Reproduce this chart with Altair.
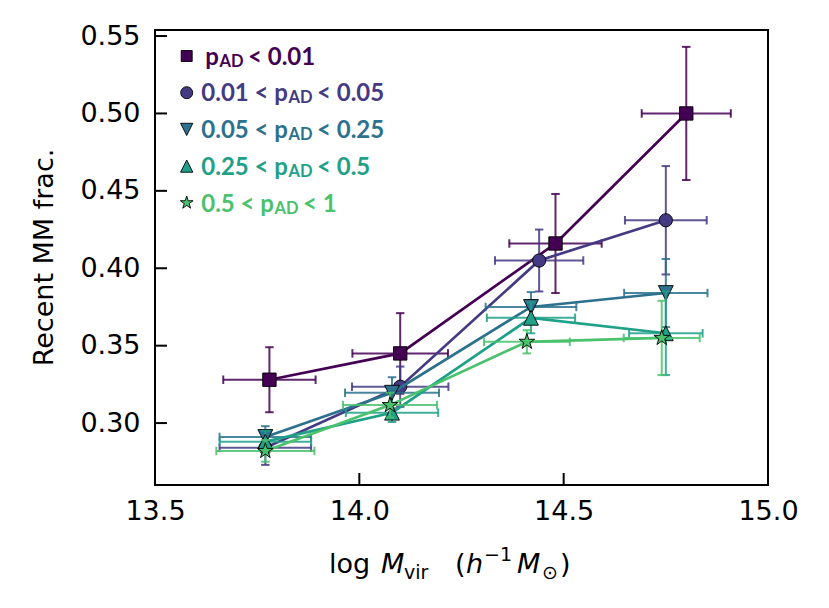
import math
import altair as alt
import pandas as pd

# ---------------- data ----------------
series_pre = ["p", "0.01 < p", "0.05 < p", "0.25 < p", "0.5 < p"]
series_sub = ["AD", "AD", "AD", "AD", "AD"]
series_post = ["< 0.01", "< 0.05", "< 0.25", "< 0.5", "< 1"]
colors = ["#440154", "#443a83", "#2c718e", "#1fa088", "#4ac16d"]

x_vals = [
    [13.78, 14.10, 14.48, 14.80],
    [13.77, 14.10, 14.44, 14.75],
    [13.77, 14.08, 14.42, 14.75],
    [13.77, 14.08, 14.42, 14.75],
    [13.77, 14.075, 14.41, 14.74],
]
y_vals = [
    [0.328, 0.345, 0.416, 0.500],
    [0.284, 0.3235, 0.405, 0.431],
    [0.291, 0.3196, 0.375, 0.384],
    [0.288, 0.3067, 0.368, 0.358],
    [0.282, 0.3116, 0.3525, 0.355],
]
x_errs = [
    [0.113, 0.117, 0.113, 0.109],
    [0.112, 0.118, 0.108, 0.100],
    [0.112, 0.115, 0.111, 0.102],
    [0.112, 0.113, 0.108, 0.090],
    [0.120, 0.115, 0.105, 0.093],
]
y_errs = [
    [0.021, 0.026, 0.032, 0.043],
    [0.011, 0.013, 0.020, 0.035],
    [0.007, 0.010, 0.0096, 0.022],
    [0.007, 0.006, 0.010, 0.027],
    [0.007, 0.008, 0.0075, 0.024],
]

x_ticks = [13.5, 14.0, 14.5, 15.0]
y_ticks = [0.30, 0.35, 0.40, 0.45, 0.50, 0.55]
x_domain = [13.5, 15.0]
y_domain = [0.26, 0.5539]

# ---------------- layout / style ----------------
W, H = 613, 455
TICK_FONT = "DejaVu Sans"

star_pts = []
for k in range(10):
    r = 1.0 if k % 2 == 0 else 0.381966
    a = -math.pi / 2 + k * math.pi / 5
    star_pts.append(f"{r*math.cos(a):.4f},{r*math.sin(a):.4f}")
STAR = "M" + "L".join(star_pts) + "Z"
TRI_DOWN = "M-1,-1L1,-1L0,1Z"
TRI_UP = "M0,-1L-1,1L1,1Z"
shapes = ["square", "circle", TRI_DOWN, TRI_UP, STAR]
plot_sizes = [180, 175, 220, 220, 270]
legend_sizes = [121, 144, 150, 150, 180]

xs = alt.Scale(domain=x_domain, nice=False, zero=False)
ys = alt.Scale(domain=y_domain, nice=False, zero=False)
xaxis = alt.Axis(values=x_ticks, format=".1f", title=None, ticks=False, tickSize=0,
                 domain=False, grid=False, labelFont=TICK_FONT, labelFontSize=27,
                 labelColor="black", labelPadding=13, labelFlush=False, labelOverlap=False)
yaxis = alt.Axis(values=y_ticks, format=".2f", title=None, ticks=False, tickSize=0,
                 domain=False, grid=False, labelFont=TICK_FONT, labelFontSize=27,
                 labelColor="black", labelPadding=15, labelFlush=False, labelOverlap=False)


def X(f):
    return alt.X(f, type="quantitative", scale=xs, axis=xaxis)


def Y(f):
    return alt.Y(f, type="quantitative", scale=ys, axis=yaxis)


layers = []

# inward ticks
layers.append(
    alt.Chart(pd.DataFrame({"v": x_ticks})).mark_rule(color="black", strokeWidth=2).encode(
        x=X("v"), y=alt.value(H), y2=alt.value(H - 12))
)
layers.append(
    alt.Chart(pd.DataFrame({"v": y_ticks})).mark_rule(color="black", strokeWidth=2).encode(
        y=Y("v"), x=alt.value(0), x2=alt.value(12))
)

for i in range(5):
    c = colors[i]
    df = pd.DataFrame({"x": x_vals[i], "y": y_vals[i], "xe": x_errs[i], "ye": y_errs[i]})
    df["x_lo"] = df["x"] - df["xe"]
    df["x_hi"] = df["x"] + df["xe"]
    df["y_lo"] = df["y"] - df["ye"]
    df["y_hi"] = df["y"] + df["ye"]
    hcaps = pd.DataFrame({"cx": list(df["x_lo"]) + list(df["x_hi"]), "cy": list(df["y"]) * 2})
    vcaps = pd.DataFrame({"cx": list(df["x"]) * 2, "cy": list(df["y_lo"]) + list(df["y_hi"])})

    layers.append(alt.Chart(df).mark_rule(color=c, strokeWidth=2, opacity=0.85).encode(
        x=X("x_lo"), x2="x_hi", y=Y("y")))
    layers.append(alt.Chart(df).mark_rule(color=c, strokeWidth=2, opacity=0.85).encode(
        x=X("x"), y=Y("y_lo"), y2="y_hi"))
    layers.append(alt.Chart(hcaps).mark_point(shape="M0,-1L0,1", size=72, filled=False,
                                              stroke=c, strokeWidth=2, opacity=0.85).encode(
        x=X("cx"), y=Y("cy")))
    layers.append(alt.Chart(vcaps).mark_point(shape="M-1,0L1,0", size=72, filled=False,
                                              stroke=c, strokeWidth=2, opacity=0.85).encode(
        x=X("cx"), y=Y("cy")))
    layers.append(alt.Chart(df).mark_line(color=c, strokeWidth=2.7).encode(x=X("x"), y=Y("y")))
    layers.append(alt.Chart(df).mark_point(shape=shapes[i], size=plot_sizes[i], filled=True,
                                           fill=c, stroke="black", strokeWidth=0.9,
                                           opacity=1).encode(x=X("x"), y=Y("y")))

# legend (drawn inside the plot, top-left)
leg_x = 31.7
leg_y0, leg_dy = 26.0, 36.7
sub_x = [64.0, 133.0, 133.0, 133.0, 119.0]
for i in range(5):
    c = colors[i]
    yy = leg_y0 + i * leg_dy
    one = pd.DataFrame({"pre": [series_pre[i]], "sub": [series_sub[i]], "post": [series_post[i]]})
    layers.append(alt.Chart(one).mark_point(shape=shapes[i], size=legend_sizes[i], filled=True,
                                            fill=c, stroke="black", strokeWidth=0.9,
                                            opacity=1).encode(
        x=alt.value(leg_x), y=alt.value(yy)))
    layers.append(alt.Chart(one).mark_text(font="Lato", fontWeight="bold", fontSize=24, color=c,
                                           align="right", baseline="alphabetic").encode(
        x=alt.value(sub_x[i]), y=alt.value(yy + 8.7), text="pre:N"))
    layers.append(alt.Chart(one).mark_text(font="Lato", fontWeight="bold", fontSize=16.5, color=c,
                                           align="left", baseline="alphabetic").encode(
        x=alt.value(sub_x[i] + 0.5), y=alt.value(yy + 10.7), text="sub:N"))
    layers.append(alt.Chart(one).mark_text(font="Lato", fontWeight="bold", fontSize=24, color=c,
                                           align="left", baseline="alphabetic").encode(
        x=alt.value(sub_x[i] + 29), y=alt.value(yy + 8.7), text="post:N"))

# y-axis title
layers.append(alt.Chart(pd.DataFrame({"t": ["Recent MM frac."]})).mark_text(
    font=TICK_FONT, fontSize=27, color="black", angle=270, align="center", baseline="middle").encode(
    x=alt.value(-110), y=alt.value(H / 2), text="t:N"))

# x-axis title: log M_vir  (h^-1 M_sun)
base_y = 543
xt_parts = [
    ("log", 174, base_y, 27, "normal"),
    ("M", 226, base_y, 27, "italic"),
    ("vir", 249, base_y + 6, 19, "normal"),
    ("(", 300, base_y, 27, "normal"),
    ("h", 311, base_y, 27, "italic"),
    ("\u22121", 329, base_y - 12, 19, "normal"),
    ("M", 362, base_y, 27, "italic"),
    ("\u2299", 387, base_y + 6, 19, "normal"),
    (")", 405, base_y, 27, "normal"),
]
for txt, px, py, fs, style in xt_parts:
    layers.append(alt.Chart(pd.DataFrame({"t": [txt]})).mark_text(
        font=TICK_FONT, fontSize=fs, fontStyle=style, color="black",
        align="left", baseline="alphabetic").encode(
        x=alt.value(px), y=alt.value(py), text="t:N"))

chart = alt.layer(*layers).properties(
    width=W, height=H,
    autosize=alt.AutoSizeParams(type="none"),
    padding={"left": 147, "top": 22, "right": 45, "bottom": 100},
    background="white",
).configure_view(stroke="black", strokeWidth=2)

chart.save("out.html", embed_options={"renderer": "svg", "actions": False})
